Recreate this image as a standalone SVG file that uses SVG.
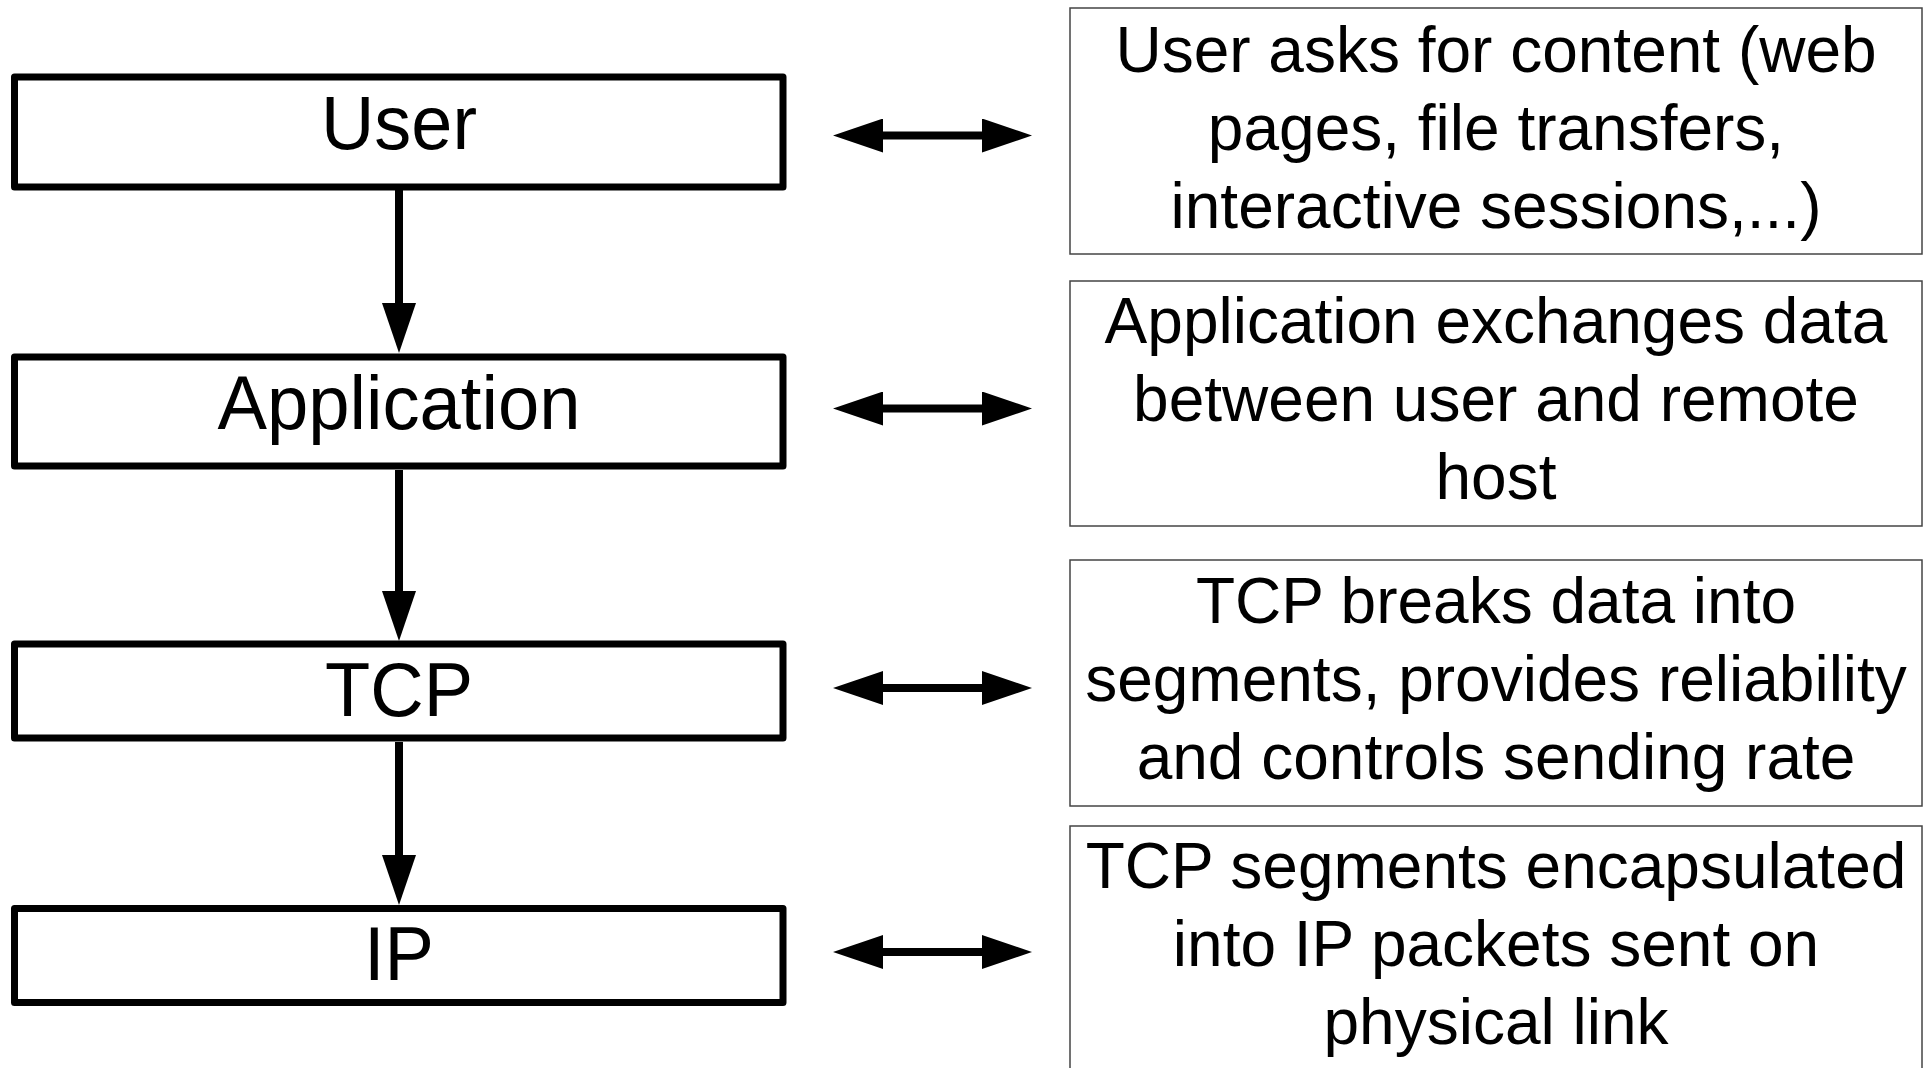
<svg xmlns="http://www.w3.org/2000/svg" width="1930" height="1068" viewBox="0 0 1930 1068">
<style>
.layer{fill:#fff;stroke:#000;stroke-width:7;stroke-linejoin:round}
.desc{fill:#fff;stroke:#444;stroke-width:1.5}
.lt{font-family:"Liberation Sans",Arial,sans-serif;font-size:76px;fill:#000;text-anchor:middle}
.rt{font-family:"Liberation Sans",Arial,sans-serif;font-size:64px;fill:#000;text-anchor:middle}
.conn{stroke:#000;stroke-width:8;fill:none}
</style>
<defs>
<marker id="head" markerUnits="userSpaceOnUse" markerWidth="50" markerHeight="34" refX="4" refY="17" orient="auto-start-reverse" viewBox="0 0 50 34">
<path d="M0,0 L50,17 L0,34 z" fill="#000"/>
</marker>
</defs>
<rect width="1930" height="1068" fill="#fff"/>
<g id="user">
<rect class="layer" x="14.5" y="77" width="768.5" height="110"/>
<text class="lt" x="399" y="149" textLength="156" lengthAdjust="spacingAndGlyphs">User</text>
</g>
<g id="application">
<rect class="layer" x="14.5" y="357" width="768.5" height="109"/>
<text class="lt" x="399" y="429" textLength="363" lengthAdjust="spacingAndGlyphs">Application</text>
</g>
<g id="tcp">
<rect class="layer" x="14.5" y="644" width="768.5" height="94"/>
<text class="lt" x="399" y="716" textLength="148" lengthAdjust="spacingAndGlyphs">TCP</text>
</g>
<g id="ip">
<rect class="layer" x="14.5" y="908.5" width="768.5" height="94"/>
<text class="lt" x="399" y="980" textLength="70" lengthAdjust="spacingAndGlyphs">IP</text>
</g>
<g id="desc-user">
<rect class="desc" x="1070" y="8" width="852" height="246"/>
<text class="rt" x="1496" y="72">User asks for content (web</text>
<text class="rt" x="1496" y="150">pages, file transfers,</text>
<text class="rt" x="1496" y="228">interactive sessions,...)</text>
</g>
<g id="desc-application">
<rect class="desc" x="1070" y="281" width="852" height="245"/>
<text class="rt" x="1496" y="343">Application exchanges data</text>
<text class="rt" x="1496" y="421">between user and remote</text>
<text class="rt" x="1496" y="499">host</text>
</g>
<g id="desc-tcp">
<rect class="desc" x="1070" y="560" width="852" height="246"/>
<text class="rt" x="1496" y="623">TCP breaks data into</text>
<text class="rt" x="1496" y="701">segments, provides reliability</text>
<text class="rt" x="1496" y="779">and controls sending rate</text>
</g>
<g id="desc-ip">
<rect class="desc" x="1070" y="826" width="852" height="246"/>
<text class="rt" x="1496" y="888">TCP segments encapsulated</text>
<text class="rt" x="1496" y="966">into IP packets sent on</text>
<text class="rt" x="1496" y="1044">physical link</text>
</g>
<g id="connectors">
<line class="conn" x1="399" y1="190" x2="399" y2="307" marker-end="url(#head)"/>
<line class="conn" x1="399" y1="470" x2="399" y2="595" marker-end="url(#head)"/>
<line class="conn" x1="399" y1="742" x2="399" y2="859" marker-end="url(#head)"/>
<line class="conn" x1="879" y1="135.5" x2="986" y2="135.5" marker-start="url(#head)" marker-end="url(#head)"/>
<line class="conn" x1="879" y1="408.5" x2="986" y2="408.5" marker-start="url(#head)" marker-end="url(#head)"/>
<line class="conn" x1="879" y1="688" x2="986" y2="688" marker-start="url(#head)" marker-end="url(#head)"/>
<line class="conn" x1="879" y1="952" x2="986" y2="952" marker-start="url(#head)" marker-end="url(#head)"/>
</g>
</svg>
